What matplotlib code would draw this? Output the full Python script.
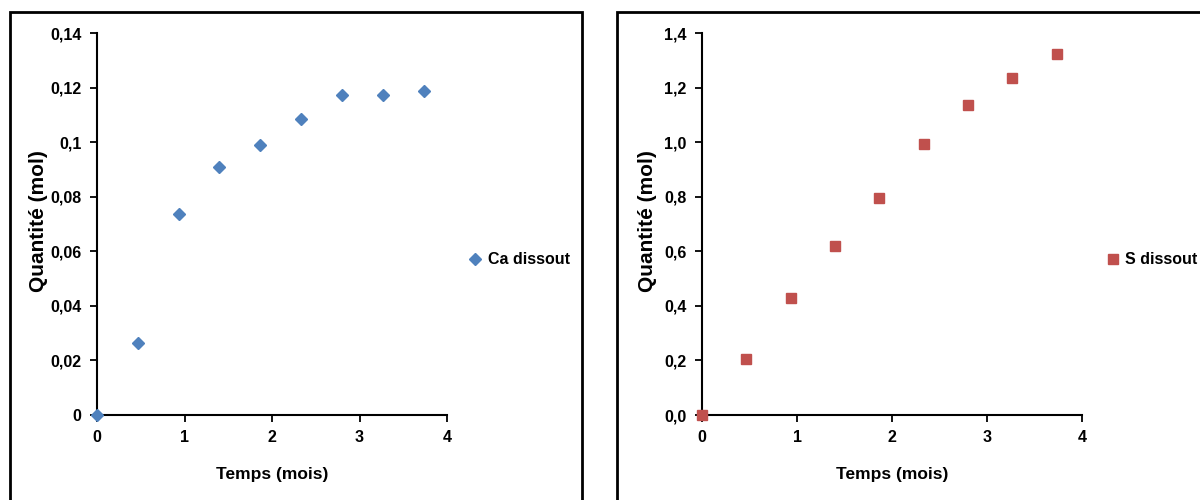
import matplotlib
matplotlib.use("Agg")
import matplotlib.pyplot as plt
from matplotlib.patches import Rectangle

plt.rcParams['font.family'] = ['Liberation Sans', 'DejaVu Sans']
plt.rcParams['font.weight'] = 'bold'

# temps (mois), sampled every 2 weeks
temps = [0, 0.467, 0.933, 1.4, 1.867, 2.333, 2.8, 3.267, 3.733]
ca_dissout = [0, 0.0265, 0.0735, 0.091, 0.099, 0.1083, 0.1172, 0.1172, 0.1186]
s_dissout = [0, 0.205, 0.43, 0.62, 0.797, 0.993, 1.136, 1.235, 1.322]

x_ticks = [0, 1, 2, 3, 4]
ca_ticks = [0, 0.02, 0.04, 0.06, 0.08, 0.1, 0.12, 0.14]
ca_labels = ['0', '0,02', '0,04', '0,06', '0,08', '0,1', '0,12', '0,14']
s_ticks = [0, 0.2, 0.4, 0.6, 0.8, 1.0, 1.2, 1.4]
s_labels = ['0,0', '0,2', '0,4', '0,6', '0,8', '1,0', '1,2', '1,4']

W, H = 1200, 500
fig = plt.figure(figsize=(12, 5), dpi=100)

# chart frames (Excel-style borders)
for x0, x1 in [(10, 582), (617, 1215)]:
    fig.patches.append(Rectangle((x0 / W, -0.1), (x1 - x0) / W, 1.1 - 12 / H,
                                 transform=fig.transFigure, fill=False,
                                 edgecolor='black', linewidth=2, clip_on=False))

ax1 = fig.add_axes([97 / W, 1 - 415 / H, 350 / W, 382 / H])
ax2 = fig.add_axes([702 / W, 1 - 415 / H, 380 / W, 382 / H])


def style(ax, yt, yl, ymax, ylab_x):
    ax.set_xlim(0, 4)
    ax.set_ylim(0, ymax)
    ax.set_xticks(x_ticks)
    ax.set_xticklabels([str(t) for t in x_ticks])
    ax.set_yticks(yt)
    ax.set_yticklabels(yl)
    for s in ['top', 'right']:
        ax.spines[s].set_visible(False)
    for s in ['left', 'bottom']:
        ax.spines[s].set_linewidth(1.5)
    ax.tick_params(direction='out', length=5, width=1.3, labelsize=11.5, pad=6)
    ax.set_xlabel('Temps (mois)', fontsize=12.5, fontweight='bold')
    ax.set_ylabel('Quantité (mol)', fontsize=15, fontweight='bold')
    ax.xaxis.set_label_coords(0.5, -0.135)
    ax.yaxis.set_label_coords(ylab_x, 0.508)


ax1.plot(temps, ca_dissout, linestyle='none', marker='D', markersize=6.5,
         color='#4F81BD', clip_on=False, label='Ca dissout', zorder=3)
style(ax1, ca_ticks, ca_labels, 0.14, -0.14)
ax1.legend(loc='center left', bbox_to_anchor=(1.063, 0.406), frameon=False,
           handlelength=0.8, handletextpad=0.4, borderaxespad=0, borderpad=0,
           prop={'size': 11.5, 'weight': 'bold'})

ax2.plot(temps, s_dissout, linestyle='none', marker='s', markersize=7.5,
         color='#C0504D', clip_on=False, label='S dissout', zorder=3)
style(ax2, s_ticks, s_labels, 1.4, -0.118)
ax2.legend(loc='center left', bbox_to_anchor=(1.066, 0.406), frameon=False,
           handlelength=0.8, handletextpad=0.3, borderaxespad=0, borderpad=0,
           prop={'size': 11.5, 'weight': 'bold'})

fig.savefig('out.png', dpi=100)
